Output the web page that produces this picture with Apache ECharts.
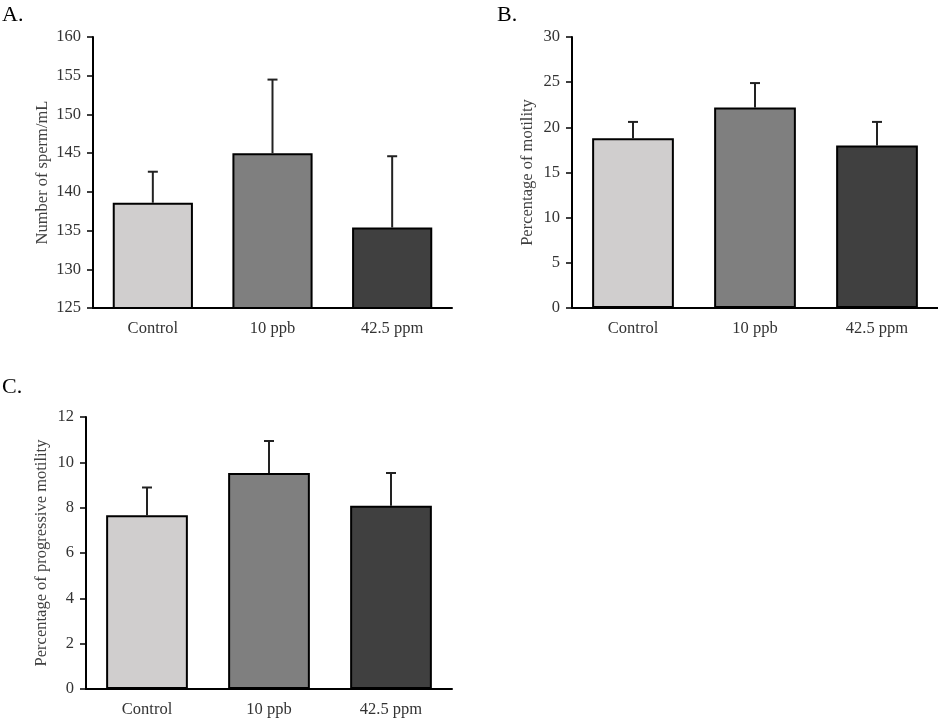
<!DOCTYPE html>
<html>
<head>
<meta charset="utf-8">
<script src="https://cdn.jsdelivr.net/npm/echarts@6/dist/echarts.min.js"></script>
<style>
html,body{margin:0;padding:0;background:#fff;}
#chart{width:938px;height:718px;}
</style>
</head>
<body>
<div id="chart"></div>
<script>
// ---- data ----
const categories = ['Control', '10 ppb', '42.5 ppm'];
const barColors = ['#d0cece', '#7f7f7f', '#404040'];

const spermMean = [138.6, 145.0, 135.4];
const spermErr  = [4.0, 9.5, 9.2];

const motilityMean = [18.8, 22.2, 18.0];
const motilityErr  = [1.8, 2.7, 2.6];

const progMean = [7.67, 9.53, 8.08];
const progErr  = [1.22, 1.41, 1.45];

const panelLetters = ['A.', 'B.', 'C.'];
const yNames = ['Number of sperm/mL', 'Percentage of motility', 'Percentage of progressive motility'];
const yMin = [125, 0, 0];
const yMax = [160, 30, 12];
const yStep = [5, 5, 2];

// ---- layout ----
const FONT = '"Liberation Serif", "Times New Roman", serif';
const grids = [
  {left: 93, top: 37, width: 359, height: 271},
  {left: 572, top: 37, width: 366, height: 271},
  {left: 86, top: 417, width: 366, height: 272}
];
const nameGaps = [42, 36, 36];
const letterPos = [[2, 4], [497, 4], [2, 376]];

const means = [spermMean, motilityMean, progMean];
const errs = [spermErr, motilityErr, progErr];

const xAxes = [], yAxes = [], series = [], graphics = [];
for (let i = 0; i < 3; i++) {
  xAxes.push({
    type: 'category', gridIndex: i, data: categories,
    axisLine: {lineStyle: {color: '#000', width: 2}},
    axisTick: {show: false},
    axisLabel: {color: '#333', fontFamily: FONT, fontSize: 16.5, margin: 12}
  });
  yAxes.push({
    type: 'value', gridIndex: i, min: yMin[i], max: yMax[i], interval: yStep[i],
    name: yNames[i], nameLocation: 'middle', nameGap: nameGaps[i],
    nameTextStyle: {color: '#404040', fontFamily: FONT, fontSize: 16.5},
    axisLine: {show: true, lineStyle: {color: '#000', width: 2}},
    axisTick: {show: true, length: 6, lineStyle: {color: '#000', width: 1.5}},
    splitLine: {show: false},
    axisLabel: {color: '#333', fontFamily: FONT, fontSize: 16.5, margin: 12}
  });
  series.push({
    type: 'bar', xAxisIndex: i, yAxisIndex: i, barWidth: '67%',
    data: means[i].map((v, k) => ({value: v, itemStyle: {color: barColors[k]}})),
    itemStyle: {borderColor: '#000', borderWidth: 2},
    z: 3
  });
  series.push({
    type: 'custom', xAxisIndex: i, yAxisIndex: i, z: 2,
    data: means[i].map((v, k) => [k, v, v + errs[i][k]]),
    renderItem: function (params, api) {
      const s = api.coord([api.value(0), api.value(1)]);
      const e = api.coord([api.value(0), api.value(2)]);
      const half = 5;
      return {
        type: 'group',
        children: [
          {type: 'line', shape: {x1: s[0], y1: s[1], x2: e[0], y2: e[1]}, style: {stroke: '#222', lineWidth: 2}},
          {type: 'line', shape: {x1: e[0] - half, y1: e[1], x2: e[0] + half, y2: e[1]}, style: {stroke: '#222', lineWidth: 2}}
        ]
      };
    }
  });
  graphics.push({
    type: 'text', left: letterPos[i][0], top: letterPos[i][1],
    style: {text: panelLetters[i], font: '22px ' + FONT, fill: '#000'}
  });
}

const chart = echarts.init(document.getElementById('chart'), null, {renderer: 'canvas'});
chart.setOption({
  animation: false,
  backgroundColor: '#fff',
  grid: grids,
  xAxis: xAxes,
  yAxis: yAxes,
  series: series,
  graphic: graphics
});
</script>
</body>
</html>
